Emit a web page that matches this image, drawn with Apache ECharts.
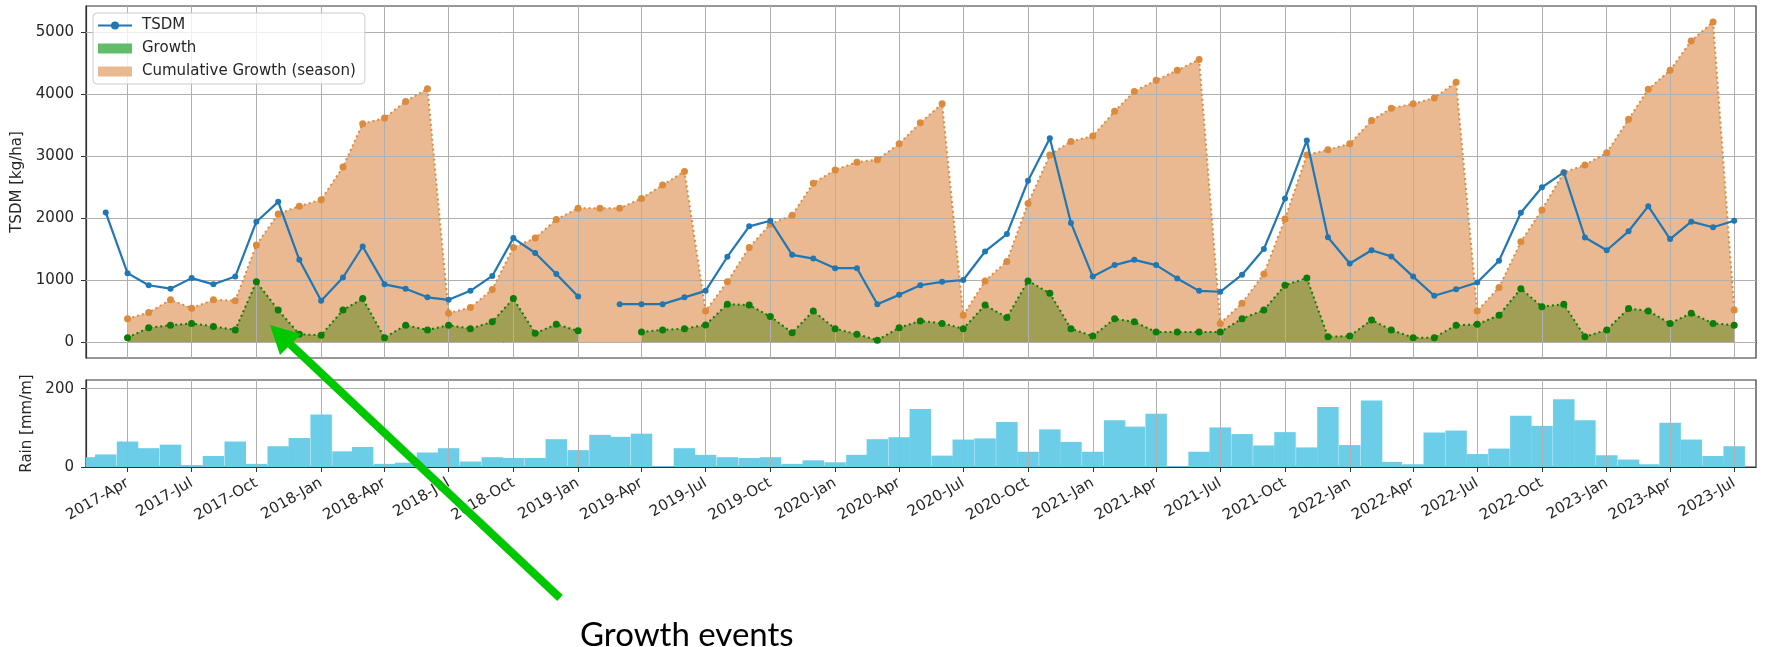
<!DOCTYPE html>
<html>
<head>
<meta charset="utf-8">
<script src="https://cdn.jsdelivr.net/npm/echarts@6/dist/echarts.min.js"></script>
<style>
  html, body { margin: 0; padding: 0; background: #fff; }
  #chart { width: 1765px; height: 647px; }
</style>
</head>
<body>
<div id="chart"></div>
<script>
// monthly data, Feb 2017 .. Jul 2023
const months = [
  '2017-02','2017-03','2017-04','2017-05','2017-06','2017-07','2017-08','2017-09','2017-10','2017-11','2017-12',
  '2018-01','2018-02','2018-03','2018-04','2018-05','2018-06','2018-07','2018-08','2018-09','2018-10','2018-11','2018-12',
  '2019-01','2019-02','2019-03','2019-04','2019-05','2019-06','2019-07','2019-08','2019-09','2019-10','2019-11','2019-12',
  '2020-01','2020-02','2020-03','2020-04','2020-05','2020-06','2020-07','2020-08','2020-09','2020-10','2020-11','2020-12',
  '2021-01','2021-02','2021-03','2021-04','2021-05','2021-06','2021-07','2021-08','2021-09','2021-10','2021-11','2021-12',
  '2022-01','2022-02','2022-03','2022-04','2022-05','2022-06','2022-07','2022-08','2022-09','2022-10','2022-11','2022-12',
  '2023-01','2023-02','2023-03','2023-04','2023-05','2023-06','2023-07'
];
const tsdm = [
  null,2090,1110,915,860,1030,930,1055,1940,2260,1325,
  665,1040,1540,930,860,720,680,825,1065,1675,1435,1095,
  735,null,610,610,610,720,825,1375,1865,1955,1405,1345,
  1190,1190,610,760,915,970,1000,1460,1740,2600,3285,1920,
  1055,1240,1325,1240,1025,825,810,1085,1500,2315,3250,1690,
  1265,1480,1380,1055,745,850,960,1310,2085,2495,2735,1685,
  1480,1785,2190,1660,1940,1850,1955
];
const growth = [
  null,null,70,230,270,300,250,195,970,515,125,
  110,515,700,70,270,195,270,215,325,700,140,285,
  180,null,null,160,195,215,275,610,595,410,150,500,
  215,125,30,230,340,300,215,595,395,985,785,215,
  95,375,325,160,160,160,160,375,515,915,1030,85,
  95,355,195,70,70,270,285,430,860,570,610,85,
  195,540,500,300,465,300,270
];
const cumulative = [
  null,null,375,475,680,545,680,665,1565,2065,2190,
  2295,2820,3520,3610,3880,4085,465,555,845,1525,1675,1975,
  2155,2155,2155,2315,2530,2750,500,970,1525,1900,2045,2560,
  2775,2900,2940,3195,3535,3840,430,985,1300,2235,3015,3235,
  3320,3720,4040,4220,4380,4555,300,625,1095,1985,3015,3100,
  3195,3570,3770,3840,3935,4190,500,880,1615,2130,2735,2855,
  3050,3590,4075,4380,4855,5160,515
];
const rain = [
  25,32,65,48,57,5,28,65,8,53,74,
  134,40,51,8,11,37,48,14,25,23,23,71,
  43,82,77,85,2,48,31,25,23,25,8,17,
  12,31,71,76,148,29,70,73,115,39,96,64,
  39,119,103,136,2,39,101,84,55,89,50,153,
  56,170,13,7,88,93,33,47,131,105,173,119,
  30,19,7,113,70,28,53
];
const tickLabels = [
  '2017-Apr','2017-Jul','2017-Oct','2018-Jan','2018-Apr','2018-Jul','2018-Oct',
  '2019-Jan','2019-Apr','2019-Jul','2019-Oct','2020-Jan','2020-Apr','2020-Jul','2020-Oct',
  '2021-Jan','2021-Apr','2021-Jul','2021-Oct','2022-Jan','2022-Apr','2022-Jul','2022-Oct',
  '2023-Jan','2023-Apr','2023-Jul'
];
const tsdmTicks = [0, 1000, 2000, 3000, 4000, 5000];
const rainTicks = [0, 200];

const monIdx = {Jan:0,Feb:1,Mar:2,Apr:3,May:4,Jun:5,Jul:6,Aug:7,Sep:8,Oct:9,Nov:10,Dec:11};
const xs = months.map(s => { const p = s.split('-'); return Date.UTC(+p[0], +p[1] - 1, 1); });
const tickTimes = tickLabels.map(s => { const p = s.split('-'); return Date.UTC(+p[0], monIdx[p[1]], 1); });
const pair = arr => xs.map((x, i) => [x, arr[i]]);
const xMin = Date.UTC(2017, 1, 1);
const xMax = Date.UTC(2023, 7, 1);
const barDays = 30.5;

const font = 'DejaVu Sans';
const txt = '#262626';
const gridLine = { type: 'solid', color: '#b0b0b0', width: 1 };

// rain bars, clipped to the lower panel
function rainBar(params, api) {
  const top = api.coord([api.value(0), api.value(1)]);
  const base = api.coord([api.value(0), 0]);
  const w = api.size([barDays * 864e5, 0])[0];
  const cs = params.coordSys;
  const rect = echarts.graphic.clipRectByRect(
    { x: top[0] - w / 2, y: top[1], width: w, height: base[1] - top[1] },
    { x: cs.x, y: cs.y, width: cs.width, height: cs.height }
  );
  return rect && { type: 'rect', shape: rect, style: { fill: '#6ccde9' } };
}

const chart = echarts.init(document.getElementById('chart'));
chart.setOption({
  animation: false,
  backgroundColor: '#fff',
  grid: [
    { left: 86, top: 6, width: 1670, height: 352, show: true, borderColor: '#333', borderWidth: 1.2 },
    { left: 86, top: 380, width: 1670, height: 87, show: true, borderColor: '#333', borderWidth: 1.2 }
  ],
  legend: {
    orient: 'vertical', left: 93, top: 13,
    padding: [5, 9, 5, 4], itemGap: 8, itemWidth: 34, itemHeight: 10,
    backgroundColor: 'rgba(255,255,255,0.8)', borderColor: '#cccccc', borderWidth: 1, borderRadius: 4,
    textStyle: { fontSize: 15, fontFamily: font, color: txt, padding: [0, 0, 0, 5] },
    selectedMode: false, z: 10,
    data: [
      { name: 'TSDM' },
      { name: 'Growth', icon: 'rect', itemStyle: { color: '#62bd6a', borderWidth: 0 } },
      { name: 'Cumulative Growth (season)', icon: 'rect', itemStyle: { color: '#eab991', borderWidth: 0 } }
    ]
  },
  xAxis: [
    {
      type: 'value', gridIndex: 0, min: xMin, max: xMax,
      axisLine: { show: true, lineStyle: { color: '#333', width: 1.2 } },
      axisTick: { show: true, customValues: tickTimes, length: 5, lineStyle: { color: '#333' } },
      axisLabel: { show: false },
      splitLine: { show: false }
    },
    {
      type: 'value', gridIndex: 1, min: xMin, max: xMax,
      axisLine: { show: true, lineStyle: { color: '#333', width: 1.2 } },
      axisTick: { show: true, customValues: tickTimes, length: 5, lineStyle: { color: '#333' } },
      axisLabel: {
        show: true, customValues: tickTimes, rotate: 30, margin: 15,
        fontSize: 15, fontFamily: font, color: txt,
        formatter: v => tickLabels[tickTimes.indexOf(v)] || ''
      },
      splitLine: { show: false }
    }
  ],
  yAxis: [
    {
      type: 'value', gridIndex: 0, min: -258, max: 5418,
      name: 'TSDM [kg/ha]', nameLocation: 'middle', nameGap: 51,
      nameTextStyle: { fontSize: 15, fontFamily: font, color: txt },
      axisLine: { show: true, lineStyle: { color: '#333', width: 1.2 } },
      axisTick: { show: true, customValues: tsdmTicks, length: 5, lineStyle: { color: '#333' } },
      axisLabel: { customValues: tsdmTicks, fontSize: 15, fontFamily: font, color: txt, margin: 12,
        formatter: v => String(v) },
      splitLine: { show: false }
    },
    {
      type: 'value', gridIndex: 1, min: 0, max: 222,
      name: 'Rain [mm/m]', nameLocation: 'middle', nameGap: 51,
      nameTextStyle: { fontSize: 15, fontFamily: font, color: txt },
      axisLine: { show: true, lineStyle: { color: '#333', width: 1.2 } },
      axisTick: { show: true, customValues: rainTicks, length: 5, lineStyle: { color: '#333' } },
      axisLabel: { customValues: rainTicks, fontSize: 15, fontFamily: font, color: txt, margin: 12,
        formatter: v => String(v) },
      splitLine: { show: false }
    }
  ],
  series: [
    {
      name: 'Cumulative Growth (season)', type: 'line', xAxisIndex: 0, yAxisIndex: 0,
      data: pair(cumulative), symbol: 'none', silent: true, z: 1,
      lineStyle: { width: 0, color: '#eab991' },
      areaStyle: { color: '#eab991', opacity: 1 }
    },
    {
      name: 'Growth', type: 'line', xAxisIndex: 0, yAxisIndex: 0,
      data: pair(growth), symbol: 'none', silent: true, z: 2,
      lineStyle: { width: 0, color: '#62bd6a' },
      areaStyle: { color: '#a19f55', opacity: 1 }
    },
    {
      name: 'cum-line', type: 'line', xAxisIndex: 0, yAxisIndex: 0,
      data: pair(cumulative), symbol: 'circle', symbolSize: 7, showAllSymbol: true, z: 4,
      lineStyle: { width: 2, color: '#dc8a3c', type: [2, 3] },
      itemStyle: { color: '#dc8a3c' }
    },
    {
      name: 'growth-line', type: 'line', xAxisIndex: 0, yAxisIndex: 0,
      data: pair(growth), symbol: 'circle', symbolSize: 7, showAllSymbol: true, z: 5,
      lineStyle: { width: 2, color: '#0a7d0a', type: [2, 3] },
      itemStyle: { color: '#0a7d0a' }
    },
    {
      name: 'TSDM', type: 'line', xAxisIndex: 0, yAxisIndex: 0,
      data: pair(tsdm), symbol: 'circle', symbolSize: 6, showAllSymbol: true, z: 6,
      lineStyle: { width: 2.2, color: '#1f77b4' },
      itemStyle: { color: '#1f77b4' },
      markLine: {
        silent: true, symbol: 'none', z: 3, animation: false,
        label: { show: false }, lineStyle: gridLine,
        data: tickTimes.map(t => ({ xAxis: t })).concat(tsdmTicks.map(v => ({ yAxis: v })))
      }
    },
    {
      name: 'Rain', type: 'custom', xAxisIndex: 1, yAxisIndex: 1,
      data: pair(rain), encode: { x: 0, y: 1 }, z: 2, silent: true,
      renderItem: rainBar
    },
    {
      name: 'rain-grid', type: 'line', xAxisIndex: 1, yAxisIndex: 1,
      data: pair(rain), symbol: 'none', silent: true, z: 3,
      lineStyle: { opacity: 0 },
      markLine: {
        silent: true, symbol: 'none', z: 3, animation: false,
        label: { show: false }, lineStyle: gridLine,
        data: tickTimes.map(t => ({ xAxis: t })).concat(rainTicks.filter(v => v > 0).map(v => ({ yAxis: v })))
      }
    }
  ],
  graphic: [
    {
      type: 'line', z: 100, silent: true,
      shape: { x1: 560, y1: 598, x2: 289, y2: 343 },
      style: { stroke: '#00c800', lineWidth: 8 }
    },
    {
      type: 'polygon', z: 100, silent: true,
      shape: { points: [[270, 325], [280, 355], [301, 334]] },
      style: { fill: '#00c800' }
    },
    {
      type: 'text', z: 100, silent: true, left: 580, top: 619,
      style: { text: 'Growth events', font: '33px Lato', fill: '#000' }
    }
  ]
});
</script>
</body>
</html>
